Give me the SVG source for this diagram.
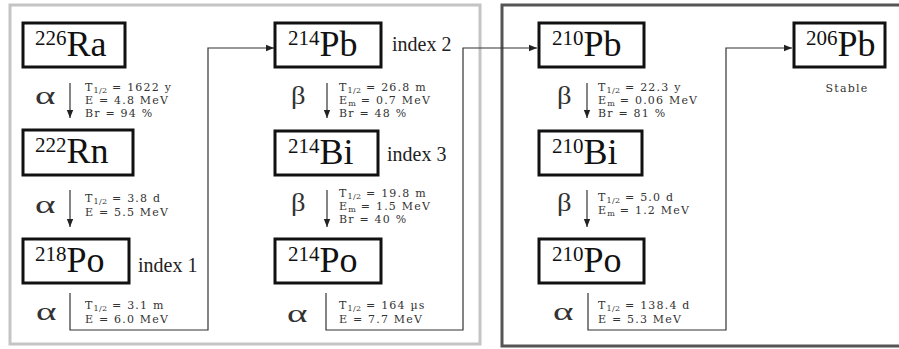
<svg xmlns="http://www.w3.org/2000/svg" width="899" height="349" viewBox="0 0 899 349">
<defs>
<marker id="ah" viewBox="0 0 10 10" refX="10" refY="5" markerWidth="8" markerHeight="8" markerUnits="userSpaceOnUse" orient="auto">
<path d="M0,1 L10,5 L0,9 Z" fill="#222"/>
</marker>
<style>
.box{fill:#fff;stroke:#111;stroke-width:3}
.el{font-family:"Liberation Serif",serif;font-size:36px;fill:#111}
.sup{font-family:"Liberation Serif",serif;font-size:21px;fill:#111}
.idx{font-family:"Liberation Serif",serif;font-size:20px;fill:#222}
.greek{font-family:"Liberation Serif",serif;font-size:26px;fill:#333}
.info{font-family:"DejaVu Serif",serif;font-size:11px;letter-spacing:1.2px;fill:#333}
.sub{font-size:8px;letter-spacing:0.3px}
.arr{fill:none;stroke:#333;stroke-width:1.2;marker-end:url(#ah)}
</style>
</defs>
<rect width="899" height="349" fill="#fff"/>
<g id="panels">
<rect x="10" y="5" width="470" height="339" fill="none" stroke="#c4c4c4" stroke-width="3"/>
<rect x="502" y="5" width="410" height="341" fill="none" stroke="#555" stroke-width="3"/>
</g>
<g id="connectors">
<line class="arr" x1="70" y1="83" x2="70" y2="118"/>
<line class="arr" x1="70" y1="190" x2="70" y2="227"/>
<polyline class="arr" points="70,293 70,330 208,330 208,48 274,48"/>
<line class="arr" x1="327" y1="83" x2="327" y2="118"/>
<line class="arr" x1="327" y1="190" x2="327" y2="227"/>
<polyline class="arr" points="326,293 326,330 463,330 463,48 537,48"/>
<line class="arr" x1="587" y1="83" x2="587" y2="118"/>
<line class="arr" x1="587" y1="190" x2="587" y2="227"/>
<polyline class="arr" points="588,293 588,330 726,330 726,48 792,48"/>
</g>
<g id="decay-labels">
<text class="greek" transform="translate(35,104) scale(1.5,1)">α</text>
<text class="info" x="85" y="91">T<tspan class="sub" dy="2">1/2</tspan><tspan dy="-2"> = 1622 y</tspan></text>
<text class="info" x="85" y="104">E = 4.8 MeV</text>
<text class="info" x="85" y="117">Br = 94 %</text>
<text class="greek" transform="translate(35,213) scale(1.5,1)">α</text>
<text class="info" x="85" y="202">T<tspan class="sub" dy="2">1/2</tspan><tspan dy="-2"> = 3.8 d</tspan></text>
<text class="info" x="85" y="216">E = 5.5 MeV</text>
<text class="greek" transform="translate(36,320) scale(1.5,1)">α</text>
<text class="info" x="85" y="309">T<tspan class="sub" dy="2">1/2</tspan><tspan dy="-2"> = 3.1 m</tspan></text>
<text class="info" x="85" y="323">E = 6.0 MeV</text>
<text class="greek" transform="translate(291,104) scale(1.1,1)">β</text>
<text class="info" x="339" y="91">T<tspan class="sub" dy="2">1/2</tspan><tspan dy="-2"> = 26.8 m</tspan></text>
<text class="info" x="339" y="104">E<tspan class="sub" dy="2">m</tspan><tspan dy="-2"> = 0.7 MeV</tspan></text>
<text class="info" x="339" y="117">Br = 48 %</text>
<text class="greek" transform="translate(291,211) scale(1.1,1)">β</text>
<text class="info" x="339" y="197">T<tspan class="sub" dy="2">1/2</tspan><tspan dy="-2"> = 19.8 m</tspan></text>
<text class="info" x="339" y="210">E<tspan class="sub" dy="2">m</tspan><tspan dy="-2"> = 1.5 MeV</tspan></text>
<text class="info" x="339" y="223">Br = 40 %</text>
<text class="greek" transform="translate(287,322) scale(1.5,1)">α</text>
<text class="info" x="339" y="309">T<tspan class="sub" dy="2">1/2</tspan><tspan dy="-2"> = 164 µs</tspan></text>
<text class="info" x="339" y="323">E = 7.7 MeV</text>
<text class="greek" transform="translate(557,104) scale(1.1,1)">β</text>
<text class="info" x="598" y="91">T<tspan class="sub" dy="2">1/2</tspan><tspan dy="-2"> = 22.3 y</tspan></text>
<text class="info" x="598" y="104">E<tspan class="sub" dy="2">m</tspan><tspan dy="-2"> = 0.06 MeV</tspan></text>
<text class="info" x="598" y="117">Br = 81 %</text>
<text class="greek" transform="translate(557,211) scale(1.1,1)">β</text>
<text class="info" x="598" y="201">T<tspan class="sub" dy="2">1/2</tspan><tspan dy="-2"> = 5.0 d</tspan></text>
<text class="info" x="598" y="214">E<tspan class="sub" dy="2">m</tspan><tspan dy="-2"> = 1.2 MeV</tspan></text>
<text class="greek" transform="translate(553,320) scale(1.5,1)">α</text>
<text class="info" x="598" y="309">T<tspan class="sub" dy="2">1/2</tspan><tspan dy="-2"> = 138.4 d</tspan></text>
<text class="info" x="598" y="323">E = 5.3 MeV</text>
</g>
<g id="Ra226"><rect class="box" x="23" y="23" width="102" height="44"/><text x="35" y="56"><tspan class="sup" dy="-11">226</tspan><tspan class="el" dy="11">Ra</tspan></text></g>
<g id="Rn222"><rect class="box" x="23" y="130" width="110" height="45"/><text x="35" y="163"><tspan class="sup" dy="-11">222</tspan><tspan class="el" dy="11">Rn</tspan></text></g>
<g id="Po218"><rect class="box" x="23" y="239" width="106" height="44"/><text x="35" y="272"><tspan class="sup" dy="-11">218</tspan><tspan class="el" dy="11">Po</tspan></text><text class="idx" x="138" y="272">index 1</text></g>
<g id="Pb214"><rect class="box" x="275" y="23" width="106" height="44"/><text x="288" y="56"><tspan class="sup" dy="-11">214</tspan><tspan class="el" dy="11">Pb</tspan></text><text class="idx" x="392" y="51">index 2</text></g>
<g id="Bi214"><rect class="box" x="275" y="131" width="103" height="44"/><text x="288" y="164"><tspan class="sup" dy="-11">214</tspan><tspan class="el" dy="11">Bi</tspan></text><text class="idx" x="387" y="161">index 3</text></g>
<g id="Po214"><rect class="box" x="275" y="239" width="106" height="44"/><text x="288" y="272"><tspan class="sup" dy="-11">214</tspan><tspan class="el" dy="11">Po</tspan></text></g>
<g id="Pb210"><rect class="box" x="539" y="23" width="105" height="44"/><text x="552" y="56"><tspan class="sup" dy="-11">210</tspan><tspan class="el" dy="11">Pb</tspan></text></g>
<g id="Bi210"><rect class="box" x="539" y="131" width="103" height="44"/><text x="552" y="164"><tspan class="sup" dy="-11">210</tspan><tspan class="el" dy="11">Bi</tspan></text></g>
<g id="Po210"><rect class="box" x="539" y="239" width="105" height="44"/><text x="552" y="272"><tspan class="sup" dy="-11">210</tspan><tspan class="el" dy="11">Po</tspan></text></g>
<g id="Pb206"><rect class="box" x="794" y="23" width="91" height="44"/><text x="806" y="56"><tspan class="sup" dy="-11">206</tspan><tspan class="el" dy="11">Pb</tspan></text><text class="info" x="847" y="92" text-anchor="middle">Stable</text></g>
</svg>
